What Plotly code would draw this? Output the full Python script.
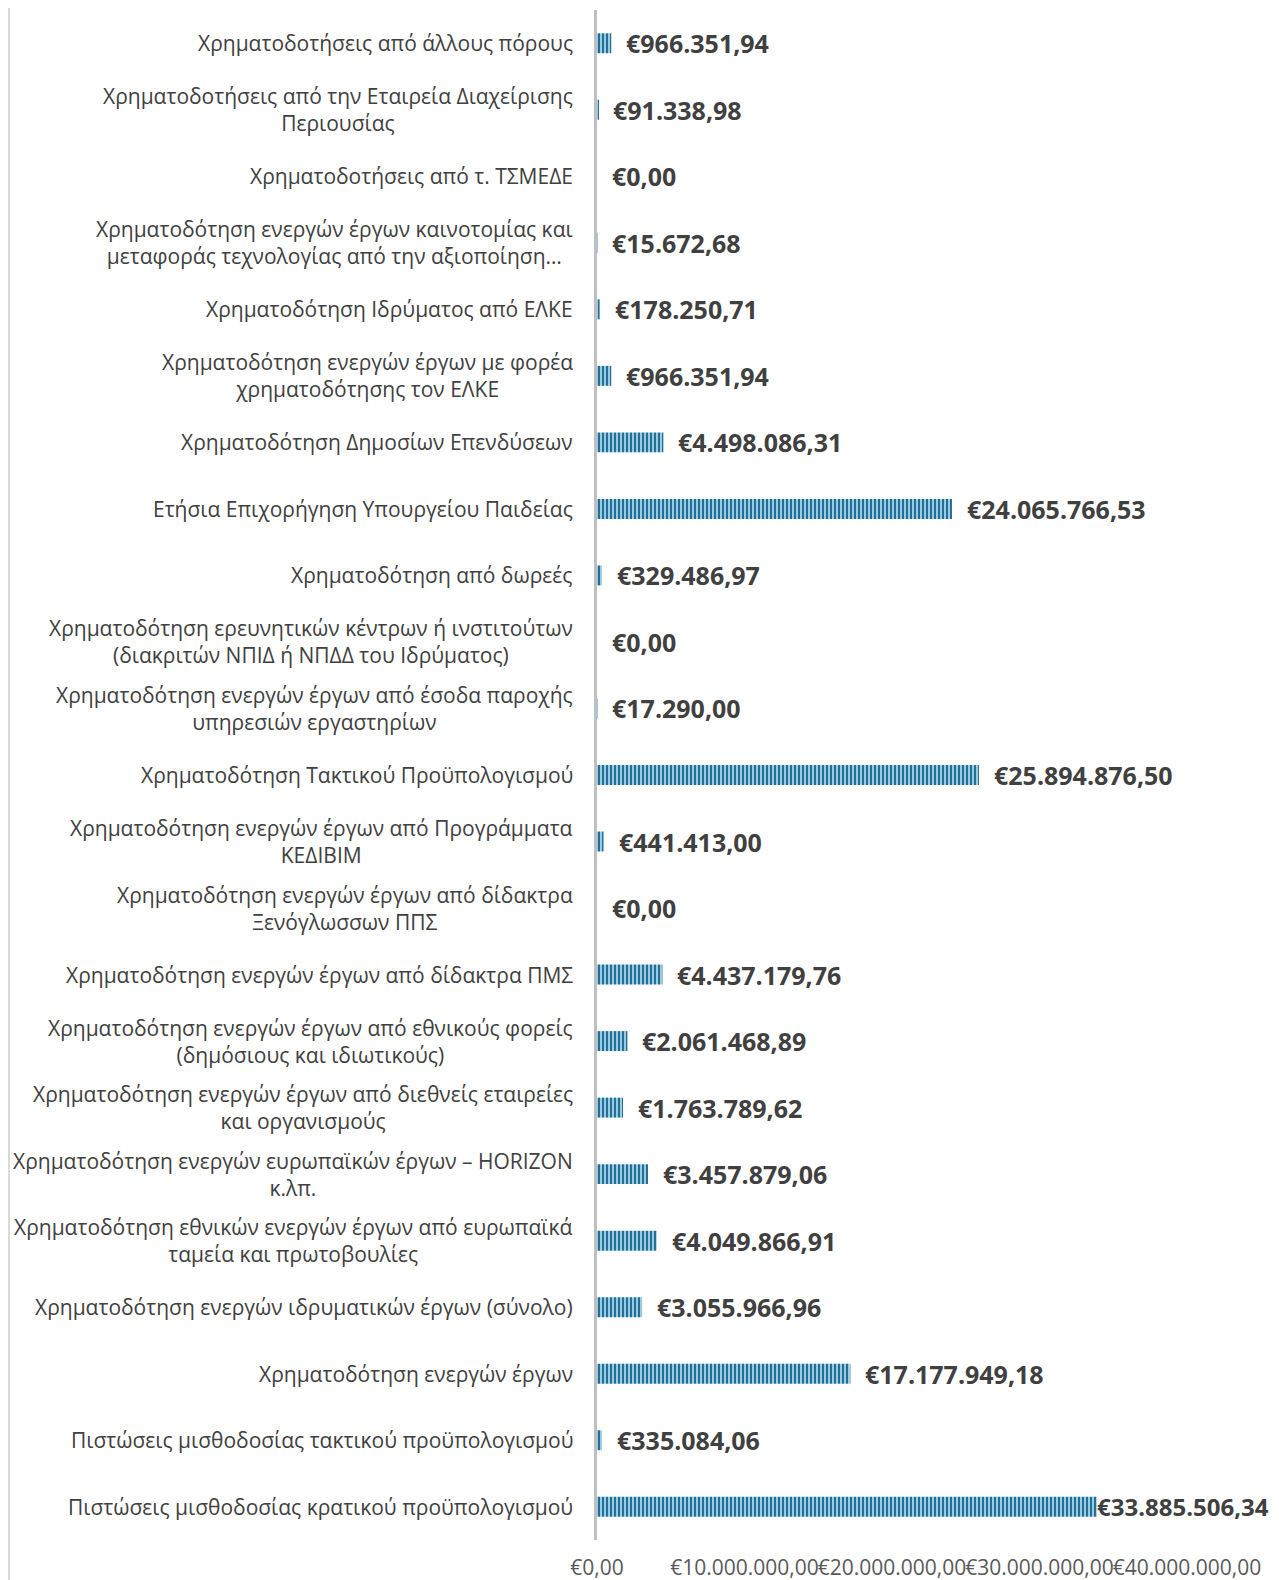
import plotly.graph_objects as go

categories = [
    "Χρηματοδοτήσεις από άλλους πόρους",
    "Χρηματοδοτήσεις από την Εταιρεία Διαχείρισης<br>Περιουσίας",
    "Χρηματοδοτήσεις από τ. ΤΣΜΕΔΕ",
    "Χρηματοδότηση ενεργών έργων καινοτομίας και<br>μεταφοράς τεχνολογίας από την αξιοποίηση…",
    "Χρηματοδότηση Ιδρύματος από ΕΛΚΕ",
    "Χρηματοδότηση ενεργών έργων με φορέα<br>χρηματοδότησης τον ΕΛΚΕ",
    "Χρηματοδότηση Δημοσίων Επενδύσεων",
    "Ετήσια Επιχορήγηση Υπουργείου Παιδείας",
    "Χρηματοδότηση από δωρεές",
    "Χρηματοδότηση ερευνητικών κέντρων ή ινστιτούτων<br>(διακριτών ΝΠΙΔ ή ΝΠΔΔ του Ιδρύματος)",
    "Χρηματοδότηση ενεργών έργων από έσοδα παροχής<br>υπηρεσιών εργαστηρίων",
    "Χρηματοδότηση Τακτικού Προϋπολογισμού",
    "Χρηματοδότηση ενεργών έργων από Προγράμματα<br>ΚΕΔΙΒΙΜ",
    "Χρηματοδότηση ενεργών έργων από δίδακτρα<br>Ξενόγλωσσων ΠΠΣ",
    "Χρηματοδότηση ενεργών έργων από δίδακτρα ΠΜΣ",
    "Χρηματοδότηση ενεργών έργων από εθνικούς φορείς<br>(δημόσιους και ιδιωτικούς)",
    "Χρηματοδότηση ενεργών έργων από διεθνείς εταιρείες<br>και οργανισμούς",
    "Χρηματοδότηση ενεργών ευρωπαϊκών έργων – HORIZON<br>κ.λπ.",
    "Χρηματοδότηση εθνικών ενεργών έργων από ευρωπαϊκά<br>ταμεία και πρωτοβουλίες",
    "Χρηματοδότηση ενεργών ιδρυματικών έργων (σύνολο)",
    "Χρηματοδότηση ενεργών έργων",
    "Πιστώσεις μισθοδοσίας τακτικού προϋπολογισμού",
    "Πιστώσεις μισθοδοσίας κρατικού προϋπολογισμού",
]

values = [
    966351.94, 91338.98, 0.00, 15672.68, 178250.71, 966351.94, 4498086.31,
    24065766.53, 329486.97, 0.00, 17290.00, 25894876.50, 441413.00, 0.00,
    4437179.76, 2061468.89, 1763789.62, 3457879.06, 4049866.91, 3055966.96,
    17177949.18, 335084.06, 33885506.34,
]

tick_values = [0, 10000000, 20000000, 30000000, 40000000]

label_shift = [13] * 22 + [-2]
label_size = [25] * 22 + [24]


def euro(v):
    s = f"{v:,.2f}"
    s = s.replace(",", "X").replace(".", ",").replace("X", ".")
    return "€" + s


L, R, T, B = 589, 92, 2, 40
W, H = 1271, 1572
plot_w = W - L - R

fig = go.Figure()
fig.add_trace(go.Bar(
    x=values,
    y=list(range(len(categories))),
    orientation="h",
    width=0.3,
    marker=dict(
        color="#8cc0d8",
        line=dict(width=0),
        pattern=dict(shape="|", fgcolor="#21709a", bgcolor="#9ccbe0",
                     size=4, solidity=0.5, fillmode="replace"),
    ),
    hoverinfo="skip",
))

annotations = []
for i, (c, v) in enumerate(zip(categories, values)):
    annotations.append(dict(
        x=0, xref="paper", y=i, yref="y", text=c, showarrow=False,
        xanchor="right", yanchor="middle", align="center", xshift=-22,
        font=dict(family="Open Sans", size=21, color="#404040"),
    ))
    annotations.append(dict(
        x=v, xref="x", y=i, yref="y", text="<b>" + euro(v) + "</b>",
        showarrow=False, xanchor="left", yanchor="middle",
        xshift=label_shift[i],
        font=dict(family="Open Sans", size=label_size[i], color="#404040"),
    ))

fig.update_layout(
    width=W, height=H,
    margin=dict(l=L, r=R, t=T, b=B),
    plot_bgcolor="white", paper_bgcolor="white",
    showlegend=False,
    annotations=annotations,
    xaxis=dict(
        range=[0, 40000000], tickvals=tick_values,
        ticktext=[euro(t) for t in tick_values],
        tickangle=0, showgrid=False, zeroline=False, showline=False,
        tickfont=dict(family="Open Sans", size=21, color="#595959"),
        ticks="", ticklen=0, ticklabelstandoff=13, automargin=False,
    ),
    yaxis=dict(
        range=[len(categories) - 0.5, -0.5], showticklabels=False,
        showgrid=False, zeroline=False, showline=True,
        linecolor="#bfbfbf", linewidth=3, ticks="",
    ),
    shapes=[dict(type="line", xref="paper", yref="paper",
                 x0=(1 - L) / plot_w, x1=(1 - L) / plot_w, y0=-0.03, y1=1.01,
                 line=dict(color="#d9d9d9", width=2))],
)

fig.write_html("out.html")
